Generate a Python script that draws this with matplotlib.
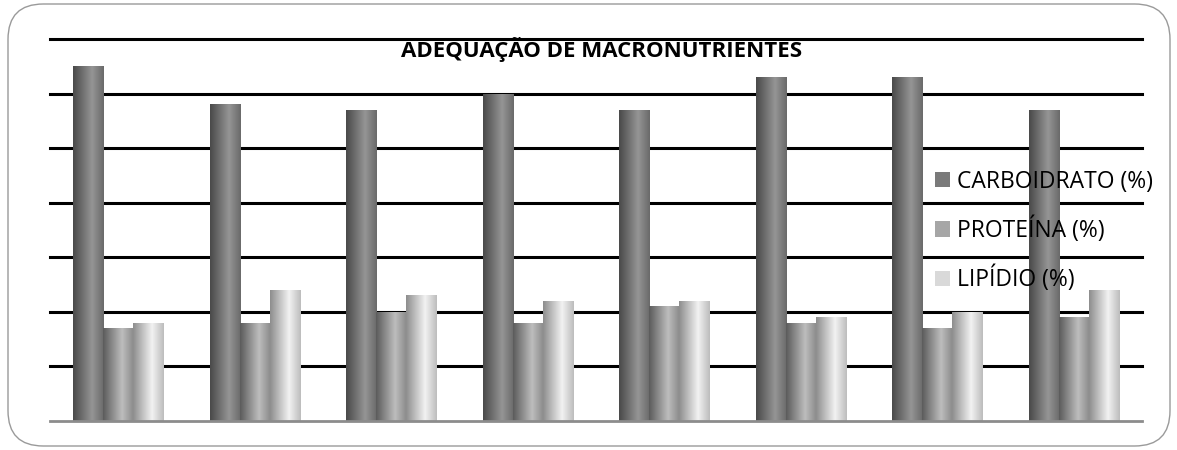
import matplotlib.pyplot as plt
import numpy as np
from matplotlib.patches import FancyBboxPatch, Patch
from matplotlib.colors import to_rgb

# values (gridlines every 10 %)
groups = ["1", "2", "3", "4", "5", "6", "7", "8"]
carboidrato = [65, 58, 57, 60, 57, 63, 63, 57]
proteina = [17, 18, 20, 18, 21, 18, 17, 19]
lipidio = [18, 24, 23, 22, 22, 19, 20, 24]
labels = ["CARBOIDRATO (%)", "PROTEÍNA (%)", "LIPÍDIO (%)"]
title = "ADEQUAÇÃO DE MACRONUTRIENTES"

# cylinder shading per series: left edge, highlight, right edge
shades = [
    ("#4a4a4a", "#959595", "#6a6a6a"),
    ("#5c5c5c", "#bdbdbd", "#8a8a8a"),
    ("#8e8e8e", "#f2f2f2", "#bdbdbd"),
]
swatch = ["#7a7a7a", "#a6a6a6", "#d9d9d9"]

plt.rcParams["font.family"] = ["Open Sans", "DejaVu Sans"]

fig = plt.figure(figsize=(11.77, 4.5), dpi=100)
frame = FancyBboxPatch((8 / 1177, 4 / 450), 1162 / 1177, 442 / 450,
                       boxstyle="round,pad=0,rounding_size=0.03",
                       transform=fig.transFigure, facecolor="none",
                       edgecolor="#9a9a9a", lw=1.0, mutation_aspect=1177 / 450,
                       zorder=-1)
fig.patches.append(frame)

ax = fig.add_axes([50 / 1177, 29 / 450, 1092 / 1177, 382 / 450])
ax.set_facecolor("none")

x = np.arange(len(groups))
w = 0.22


def gradient(t, cols):
    c0, c1, c2 = (np.array(to_rgb(c)) for c in cols)
    out = np.empty((len(t), 3))
    for i, v in enumerate(t):
        if v < 0.62:
            f = v / 0.62
            out[i] = c0 + (c1 - c0) * f
        else:
            f = (v - 0.62) / 0.38
            out[i] = c1 + (c2 - c1) * f
    return out


t = np.linspace(0, 1, 64)
for k, vals in enumerate([carboidrato, proteina, lipidio]):
    bars = ax.bar(x + (k - 1) * w, vals, w, color=swatch[k], zorder=3)
    img = gradient(t, shades[k])[None, :, :]
    for b in bars:
        bx, by = b.get_x(), b.get_y()
        im = ax.imshow(img, extent=(bx, bx + b.get_width(), by, by + b.get_height()),
                       aspect="auto", zorder=3.5, interpolation="bilinear")
        im.set_clip_path(b)

ax.set_xlim(-0.5, len(groups) - 0.5)
ax.set_ylim(0, 70)
ax.set_yticks(range(10, 80, 10))
ax.set_xticks([])
ax.tick_params(axis="y", length=0, labelleft=False)
ax.yaxis.grid(True, color="black", lw=2.2)
for gl in ax.get_ygridlines():
    gl.set_clip_on(False)
ax.set_axisbelow(True)
for s in ["top", "left", "right"]:
    ax.spines[s].set_visible(False)
ax.spines["bottom"].set_color("#8c8c8c")
ax.spines["bottom"].set_linewidth(2)
ax.spines["bottom"].set_zorder(4)

ax.text(0.505, 0.954, title, transform=ax.transAxes, ha="center", va="baseline",
        fontsize=16, fontweight="bold", color="black", zorder=5)

handles = [Patch(facecolor=c, edgecolor="none") for c in swatch]
ax.legend(handles, labels, loc="center left", bbox_to_anchor=(935 / 1177, 219 / 450),
          bbox_transform=fig.transFigure, frameon=False, fontsize=16.5,
          handlelength=0.65, handleheight=0.65, handletextpad=0.3,
          labelspacing=1.0, borderaxespad=0, borderpad=0)

fig.savefig("out.png", dpi=100)
